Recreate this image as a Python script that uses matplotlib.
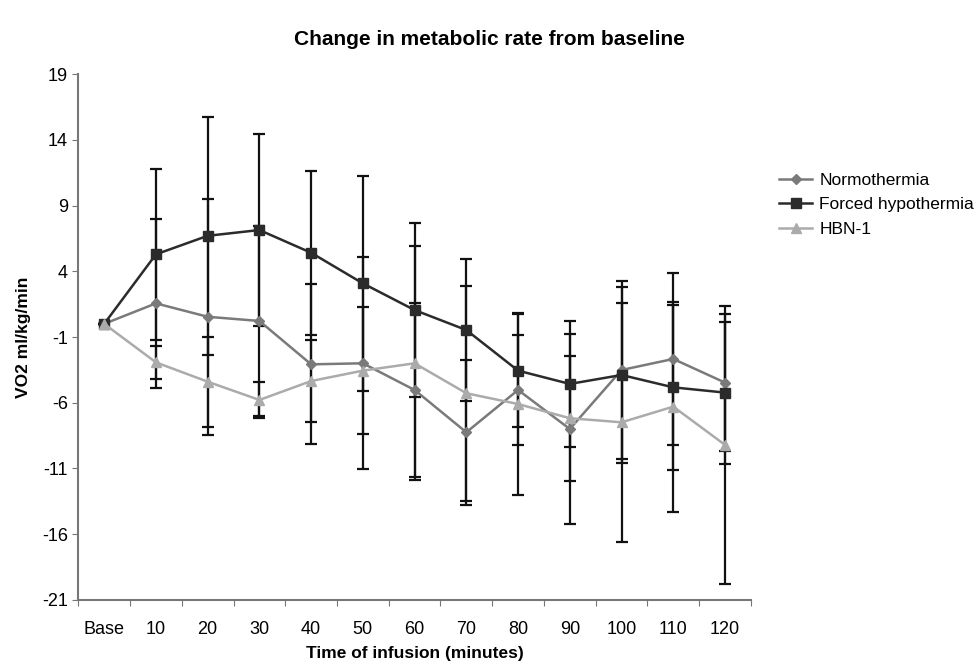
import numpy as np
import matplotlib
matplotlib.use("Agg")
import matplotlib.pyplot as plt

plt.rcParams['font.family'] = ['Liberation Sans', 'DejaVu Sans']

# === Data ===
categories = ["Base", "10", "20", "30", "40", "50", "60", "70", "80", "90", "100", "110", "120"]

normo_mean = [0, 1.56, 0.54, 0.22, -3.08, -3.0, -5.03, -8.25, -5.03, -8.0, -3.51, -2.67, -4.47]
normo_err = [0, 6.45, 8.96, 7.22, 6.09, 8.08, 6.59, 5.52, 4.18, 7.2, 6.77, 6.54, 5.2]

forced_mean = [0, 5.29, 6.70, 7.14, 5.41, 3.08, 1.05, -0.47, -3.56, -4.57, -3.89, -4.83, -5.23]
forced_err = [0, 6.49, 9.05, 7.3, 6.24, 8.16, 6.62, 5.38, 4.29, 4.79, 6.69, 6.3, 5.4]

hbn_mean = [0, -2.93, -4.40, -5.79, -4.35, -3.56, -3.0, -5.28, -6.10, -7.18, -7.49, -6.30, -9.21]
hbn_err = [0, 1.25, 3.42, 1.39, 3.13, 4.85, 8.89, 8.16, 6.9, 4.74, 9.1, 8.0, 10.6]

y_ticks = [19, 14, 9, 4, -1, -6, -11, -16, -21]

# === Plot ===
fig = plt.figure(figsize=(9.79, 6.68), dpi=100)
ax = fig.add_axes([0.080, 0.102, 0.687, 0.787])

x = np.arange(len(categories))

series = [
    ("Normothermia", normo_mean, normo_err, "#7a7a7a", "D", 5),
    ("Forced hypothermia", forced_mean, forced_err, "#2b2b2b", "s", 6.5),
    ("HBN-1", hbn_mean, hbn_err, "#ababab", "^", 6.5),
]

# error bars first (black), then lines on top
for name, m, e, col, mk, ms in series:
    ax.errorbar(x, m, yerr=e, fmt="none", ecolor="#111111", elinewidth=1.6,
                capsize=4, capthick=1.6, zorder=2)

for name, m, e, col, mk, ms in series:
    ax.plot(x, m, color=col, marker=mk, markersize=ms, linewidth=1.8,
            markeredgecolor=col, label=name, zorder=3)

ax.set_xlim(-0.5, len(categories) - 0.5)
ax.set_ylim(-21, 19)
ax.set_yticks(y_ticks)
ax.set_yticklabels([str(t) for t in y_ticks], fontsize=13)

# category axis: tick marks between categories, labels at centres
ax.set_xticks(np.arange(-0.5, len(categories), 1.0))
ax.set_xticklabels([])
ax.set_xticks(x, minor=True)
ax.set_xticklabels(categories, minor=True, fontsize=13)
ax.tick_params(axis="x", which="minor", length=0, pad=15)
ax.tick_params(axis="x", which="major", length=4, color="#777777", direction="out")
ax.tick_params(axis="y", length=4, color="#777777", direction="out")

for side in ["top", "right"]:
    ax.spines[side].set_visible(False)
for side in ["left", "bottom"]:
    ax.spines[side].set_color("#777777")
    ax.spines[side].set_linewidth(1.5)

ax.set_xlabel("Time of infusion (minutes)", fontsize=12.5, fontweight="bold", labelpad=6)
ax.set_ylabel("VO2 ml/kg/min", fontsize=12.5, fontweight="bold", labelpad=8)

fig.suptitle("Change in metabolic rate from baseline", fontsize=15, fontweight="bold",
             x=0.5, y=0.955)

leg = fig.legend(loc="upper left", bbox_to_anchor=(0.78, 0.765), frameon=False,
                 fontsize=12.5, handlelength=1.9, handletextpad=0.4, labelspacing=0.55)

fig.savefig("out.png", dpi=100)
